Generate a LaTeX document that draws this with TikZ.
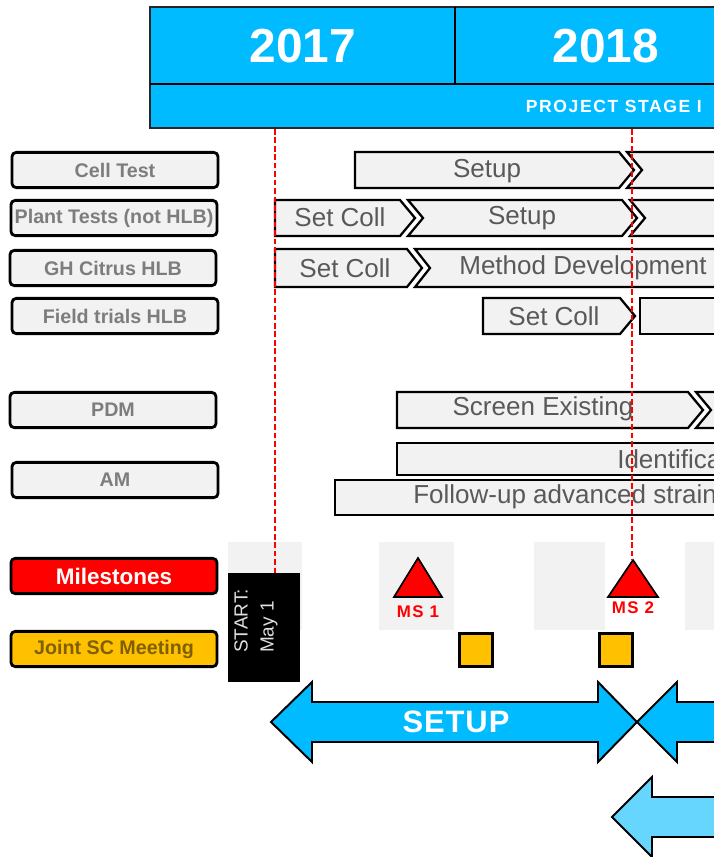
\documentclass[tikz,border=0pt]{standalone}
\usepackage{fontspec}
\setmainfont{Liberation Sans}

\definecolor{hdrblue}{RGB}{0,187,255}
\definecolor{arrowblue}{RGB}{102,214,255}
\definecolor{barfill}{RGB}{242,242,242}
\definecolor{bartext}{RGB}{89,89,89}
\definecolor{labtext}{RGB}{125,125,125}
\definecolor{msred}{RGB}{255,0,0}
\definecolor{scyellow}{RGB}{255,192,0}
\definecolor{sctext}{RGB}{127,96,0}

\begin{document}
\begin{tikzpicture}[x=0.025cm,y=-0.025cm,
    lab/.style={draw,line width=2pt,rounded corners=3pt,fill=barfill,
      minimum width=5.15cm,minimum height=0.88cm,inner sep=0pt,
      text=labtext,font=\fontsize{14}{16}\selectfont\bfseries},
    bar/.style={draw,line width=1.6pt,fill=barfill},
    bartxt/.style={text=bartext,inner sep=0pt,font=\fontsize{18.5}{20}\selectfont},
    yeartxt/.style={text=white,font=\fontsize{34}{36}\selectfont\bfseries},
    mline/.style={msred,line width=1.5pt,dash pattern=on 4pt off 2pt},
    msbg/.style={fill=barfill},
    mstxt/.style={text=msred,inner sep=0pt,
      font=\fontsize{12}{12}\selectfont\bfseries\addfontfeatures{LetterSpace=8}},
    meet/.style={draw,line width=1.6pt,fill=scyellow,minimum size=0.82cm,inner sep=0pt},
    bigarrow/.style={draw,line width=1.4pt,line join=miter}]
        \useasboundingbox (0,0) rectangle (714,857);
        \clip (0,0) rectangle (714,857);
        %% Header
        \fill[hdrblue] (150,7) rectangle (730,128);
        \draw[black!85,line width=2pt] (150,7) rectangle (730,128);
        \draw[black,line width=1.2pt] (150,84) -- (730,84);
        \draw[black,line width=1.2pt] (455,7) -- (455,84);
        \node[yeartxt] (y2017) at (303,46) {2017};
        \node[yeartxt] (y2018) at (606,46) {2018};
        \node[anchor=east,text=white,inner sep=0pt,
          font=\fontsize{12.5}{14}\selectfont\bfseries\addfontfeatures{LetterSpace=9}]
          (stage) at (702,106) {PROJECT STAGE I};
        %% Row labels
        \node[lab] (cell)  at (115,170) {Cell Test};
        \node[lab] (plant) at (114,218) {Plant Tests (not HLB)};
        \node[lab] (gh)    at (113,268) {GH Citrus HLB};
        \node[lab] (field) at (115,316) {Field trials HLB};
        \node[lab] (pdm)   at (113,410) {PDM};
        \node[lab] (am)    at (115,480) {AM};
        \node[lab,fill=msred,text=white,font=\fontsize{16}{18}\selectfont\bfseries]
          (miles) at (114,576) {Milestones};
        \node[lab,fill=scyellow,text=sctext] (joint) at (114,649) {Joint SC Meeting};
        %% Cell Test
        \draw[bar] (355,152) -- (619,152) -- (634,170) -- (619,188) -- (355,188) -- cycle;
        \draw[bar] (627,152) -- (730,152) -- (730,188) -- (627,188) -- (642,170) -- cycle;
        \node[bartxt] (cellsetup) at (487,171) {Setup};
        %% Plant Tests
        \draw[bar] (275,200) -- (400,200) -- (415,218) -- (400,236) -- (275,236) -- cycle;
        \draw[bar] (408,200) -- (622,200) -- (637,218) -- (622,236) -- (408,236) -- (423,218) -- cycle;
        \draw[bar] (630,200) -- (730,200) -- (730,236) -- (630,236) -- (645,218) -- cycle;
        \node[bartxt] (plantcoll) at (340,217) {Set Coll};
        \node[bartxt] (plantsetup) at (522,218) {Setup};
        %% GH Citrus
        \draw[bar] (275,249) -- (407,249) -- (422,268) -- (407,287) -- (275,287) -- cycle;
        \draw[bar] (415,249) -- (730,249) -- (730,287) -- (415,287) -- (430,268) -- cycle;
        \node[bartxt] (ghcoll) at (345,268) {Set Coll};
        \node[bartxt] (ghmethod) at (583,268) {Method Development};
        %% Field trials
        \draw[bar] (483,298) -- (620,298) -- (635,316) -- (620,334) -- (483,334) -- cycle;
        \draw[bar] (640,298) rectangle (730,334);
        \node[bartxt] (fieldcoll) at (554,316) {Set Coll};
        %% PDM
        \draw[bar] (397,392) -- (688,392) -- (703,410) -- (688,428) -- (397,428) -- cycle;
        \draw[bar] (696,392) -- (730,392) -- (730,428) -- (696,428) -- (711,410) -- cycle;
        \node[bartxt] (screen) at (543,409) {Screen Existing};
        %% AM
        \draw[bar] (397,443) rectangle (730,475);
        \draw[bar] (335,480) rectangle (730,515);
        \node[bartxt,anchor=west] (ident) at (617,459) {Identifica};
        \node[bartxt,anchor=west] (follow) at (413,497) {Follow-up advanced strain};
        %% Milestone row
        \fill[msbg] (228,542) rectangle (302,630);
        \fill[msbg] (379,542) rectangle (454,630);
        \fill[msbg] (534,542) rectangle (605,630);
        \fill[msbg] (685,542) rectangle (730,630);
        \fill[black] (228,573) rectangle (300,682);
        \node[rotate=90,align=left,text=white!88!black,inner sep=0pt,
          font=\fontsize{13.5}{18.5}\selectfont] (start) at (256,621) {START:\\May 1};
        \draw[fill=msred,line width=1.2pt,line join=miter] (394,597) -- (418,558) -- (442,597) -- cycle;
        \draw[fill=msred,line width=1.2pt,line join=miter] (608,597) -- (633,560) -- (658,597) -- cycle;
        \node[mstxt] (ms1) at (418,612) {MS 1};
        \node[mstxt] (ms2) at (633,608) {MS 2};
        \node[meet] (sc1) at (476,650) {};
        \node[meet] (sc2) at (616,650) {};
        %% Key dates
        \draw[mline] (275,129) -- (275,573);
        \draw[mline] (632,129) -- (632,560);
        %% Stage arrows
        \draw[bigarrow,fill=hdrblue] (271,722) -- (312,682) -- (312,702) -- (598,702) -- (598,682)
          -- (637,722) -- (598,762) -- (598,742) -- (312,742) -- (312,762) -- cycle;
        \draw[bigarrow,fill=hdrblue] (637,722) -- (677,682) -- (677,702) -- (730,702)
          -- (730,742) -- (677,742) -- (677,762) -- cycle;
        \node[text=white,font=\fontsize{22}{24}\selectfont\bfseries\addfontfeatures{LetterSpace=3}]
          (setup) at (456,722) {SETUP};
        \draw[bigarrow,fill=arrowblue] (612,817) -- (652,777) -- (652,797) -- (730,797)
          -- (730,837) -- (652,837) -- (652,857) -- cycle;
\end{tikzpicture}
\end{document}
